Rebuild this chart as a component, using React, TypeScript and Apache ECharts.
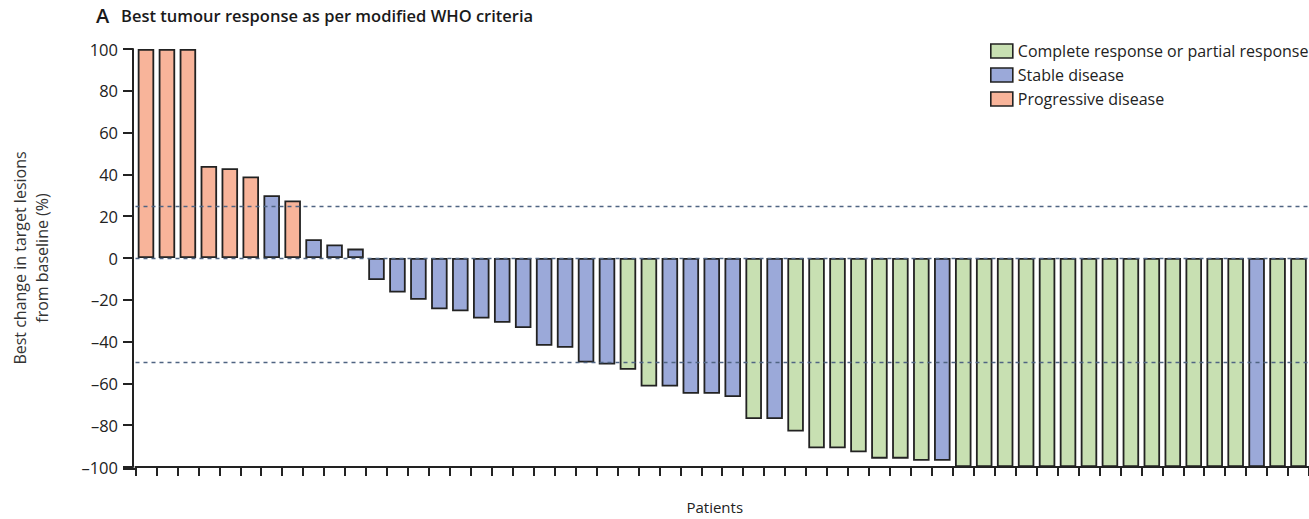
import React, { useEffect, useRef } from "react";
import * as echarts from "echarts";

// Best change in target lesions from baseline (%) for each patient, sorted
const changeValues: number[] = [
  100, 100, 100, 44, 43, 39, 30, 27.5, 9, 6.5, 4.5,
  -10.5, -16.5, -20, -24.5, -25.5, -29, -31, -33.5, -42, -43, -50, -51,
  -53.5, -61.5, -61.5, -65, -65, -66.5, -77, -77, -83, -91, -91, -93,
  -96, -96, -97, -97,
  -100, -100, -100, -100, -100, -100, -100, -100, -100, -100, -100, -100,
  -100, -100, -100, -100, -100,
];

// Best response per patient: CR = complete/partial response, SD = stable, PD = progressive
const responses: string[] = [
  "PD", "PD", "PD", "PD", "PD", "PD", "SD", "PD", "SD", "SD", "SD",
  "SD", "SD", "SD", "SD", "SD", "SD", "SD", "SD", "SD", "SD", "SD", "SD",
  "CR", "CR", "SD", "SD", "SD", "SD", "CR", "SD", "CR", "CR", "CR", "CR",
  "CR", "CR", "CR", "SD",
  "CR", "CR", "CR", "CR", "CR", "CR", "CR", "CR", "CR", "CR", "CR", "CR",
  "CR", "CR", "SD", "CR", "CR",
];

const patients: string[] = changeValues.map((_, i) => `P${i + 1}`);

const seriesDefs = [
  { code: "CR", name: "Complete response or partial response", color: "#c8e0b2" },
  { code: "SD", name: "Stable disease", color: "#9ba9d9" },
  { code: "PD", name: "Progressive disease", color: "#f8b49a" },
];

const thresholds: number[] = [25, 0, -50];
const yTicks = { min: -100, max: 100, interval: 20 };

const FONT = "'Open Sans', 'Noto Sans', sans-serif";

export default function App() {
  const ref = useRef<HTMLDivElement>(null);

  useEffect(() => {
    if (!ref.current) return;
    const chart = echarts.init(ref.current, undefined, { renderer: "svg" });

    const series: any[] = seriesDefs.map((s, si) => ({
      name: s.name,
      type: "bar",
      barWidth: 16.5,
      barGap: "-100%",
      data: changeValues.map((v, i) => (responses[i] === s.code ? v : "-")),
      itemStyle: { color: s.color, borderColor: "#222222", borderWidth: 1.8 },
      emphasis: { disabled: true },
      markLine:
        si === 0
          ? {
              silent: true,
              symbol: "none",
              label: { show: false },
              lineStyle: { color: "#4f6482", type: [4, 4], width: 1.4 },
              data: thresholds.map((t) => ({ yAxis: t })),
              z: 10,
            }
          : undefined,
    }));

    chart.setOption({
      animation: false,
      textStyle: { fontFamily: FONT },
      graphic: [
        {
          type: "text",
          left: 96,
          top: 5,
          style: {
            text: "A",
            font: `600 20px ${FONT}`,
            fill: "#1a1a1a",
          },
        },
        {
          type: "text",
          left: 121,
          top: 7,
          style: {
            text: "Best tumour response as per modified WHO criteria",
            font: `600 16.5px ${FONT}`,
            fill: "#1a1a1a",
          },
        },
        {
          type: "line",
          shape: { x1: 123, y1: 469, x2: 136, y2: 469 },
          style: { stroke: "#222", lineWidth: 2 },
        },
      ],
      legend: {
        orient: "vertical",
        left: 990,
        top: 43,
        padding: 0,
        itemWidth: 22,
        itemHeight: 14,
        itemGap: 8,
        icon: "rect",
        textStyle: { fontSize: 16, color: "#222", fontFamily: FONT },
        itemStyle: { borderColor: "#222", borderWidth: 1.6 },
        data: seriesDefs.map((s) => s.name),
      },
      grid: { left: 135.5, top: 49, width: 1178, height: 420 },
      xAxis: {
        type: "category",
        data: patients,
        boundaryGap: true,
        name: "Patients",
        nameLocation: "middle",
        nameGap: 32,
        nameTextStyle: { fontSize: 15, color: "#222", padding: [0, 15, 0, 0] },
        axisLine: { onZero: false, lineStyle: { color: "#222", width: 2 } },
        axisTick: { show: true, interval: 0, length: 9, lineStyle: { color: "#222", width: 2 } },
        axisLabel: { show: false, interval: 0 },
      },
      yAxis: {
        type: "value",
        min: yTicks.min,
        max: yTicks.max,
        interval: yTicks.interval,
        offset: 2.5,
        name: "Best change in target lesions\nfrom baseline (%)",
        nameLocation: "middle",
        nameGap: 80,
        nameRotate: 90,
        nameTextStyle: { fontSize: 16, color: "#333", lineHeight: 22, align: "center" },
        splitLine: { show: false },
        axisLine: { show: true, lineStyle: { color: "#222", width: 2 } },
        axisTick: { show: true, inside: false, length: 10, lineStyle: { color: "#222", width: 2 } },
        axisLabel: {
          fontSize: 16.5,
          color: "#222",
          margin: 15,
          formatter: (v: number) => String(v).replace("-", "\u2013"),
        },
      },
      series,
    });

    return () => chart.dispose();
  }, []);

  return (
    <div
      ref={ref}
      style={{ position: "absolute", left: 0, top: 0, width: 1309, height: 519 }}
    />
  );
}
